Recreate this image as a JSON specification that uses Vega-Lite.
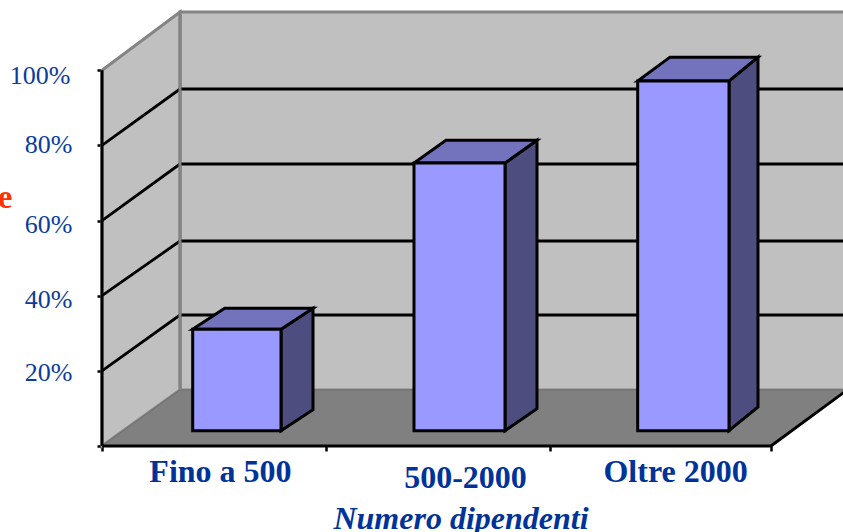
{
  "$schema": "https://vega.github.io/schema/vega-lite/v6.json",
  "width": 741,
  "height": 446,
  "autosize": {"type": "none"},
  "padding": {"left": 102, "top": 0, "right": 0, "bottom": 86},
  "background": "white",
  "config": {"view": {"stroke": null}},
  "datasets": {
    "pareti": [
      {"id": "fondo", "x": 0.3498, "y": 14.9, "y2": 115.5},
      {"id": "fondo", "x": 3.36, "y": 14.9, "y2": 115.5},
      {"id": "lato", "x": 0, "y": 0, "y2": 100},
      {"id": "lato", "x": 0.3498, "y": 14.9, "y2": 115.5}
    ],
    "pavimento": [
      {"x": 0, "y": 0, "y2": 0},
      {"x": 0.3498, "y": 0, "y2": 14.9},
      {"x": 3, "y": 0, "y2": 14.9},
      {"x": 3.341, "y": 14.9, "y2": 14.9}
    ],
    "griglia": [
      {"id": "20", "x": 0, "y": 20},
      {"id": "20", "x": 0.3498, "y": 34.87},
      {"id": "20", "x": 3.36, "y": 34.87},
      {"id": "40", "x": 0, "y": 40},
      {"id": "40", "x": 0.3498, "y": 54.56},
      {"id": "40", "x": 3.36, "y": 54.56},
      {"id": "60", "x": 0, "y": 60},
      {"id": "60", "x": 0.3498, "y": 75.06},
      {"id": "60", "x": 3.36, "y": 75.06},
      {"id": "80", "x": 0, "y": 80},
      {"id": "80", "x": 0.3498, "y": 95.02},
      {"id": "80", "x": 3.36, "y": 95.02}
    ],
    "spigolo": [
      {"x": 0.3498, "y": 14.9},
      {"x": 0.3498, "y": 115.5}
    ],
    "assi": [
      {"id": "verticale", "ordine": 1, "x": 0, "y": 0},
      {"id": "verticale", "ordine": 2, "x": 0, "y": 100},
      {"id": "base", "ordine": 1, "x": 0, "y": 0},
      {"id": "base", "ordine": 2, "x": 3, "y": 0},
      {"id": "base", "ordine": 3, "x": 3.341, "y": 14.9}
    ],
    "colonne": [
      {"categoria": "Fino a 500", "x": 0.4067, "x2": 0.8027, "y": 31.06, "y2": 4.07},
      {"categoria": "500-2000", "x": 1.3991, "x2": 1.8072, "y": 75.3, "y2": 4.07},
      {"categoria": "Oltre 2000", "x": 2.4022, "x2": 2.8117, "y": 97.15, "y2": 4.07}
    ],
    "facce": [
      {"id": "Fino a 500 lato", "faccia": "lato", "x": 0.8027, "y": 4.07, "y2": 31.06},
      {"id": "Fino a 500 lato", "faccia": "lato", "x": 0.9462, "y": 9.66, "y2": 36.65},
      {"id": "Fino a 500 cima", "faccia": "cima", "x": 0.4067, "y": 31.06, "y2": 31.06},
      {"id": "Fino a 500 cima", "faccia": "cima", "x": 0.5502, "y": 31.06, "y2": 36.65},
      {"id": "Fino a 500 cima", "faccia": "cima", "x": 0.8027, "y": 31.06, "y2": 36.65},
      {"id": "Fino a 500 cima", "faccia": "cima", "x": 0.9462, "y": 36.65, "y2": 36.65},
      {"id": "500-2000 lato", "faccia": "lato", "x": 1.8072, "y": 4.07, "y2": 75.3},
      {"id": "500-2000 lato", "faccia": "lato", "x": 1.9507, "y": 9.95, "y2": 81.4},
      {"id": "500-2000 cima", "faccia": "cima", "x": 1.3991, "y": 75.3, "y2": 75.3},
      {"id": "500-2000 cima", "faccia": "cima", "x": 1.5426, "y": 75.3, "y2": 81.4},
      {"id": "500-2000 cima", "faccia": "cima", "x": 1.8072, "y": 75.3, "y2": 81.4},
      {"id": "500-2000 cima", "faccia": "cima", "x": 1.9507, "y": 81.4, "y2": 81.4},
      {"id": "Oltre 2000 lato", "faccia": "lato", "x": 2.8117, "y": 4.07, "y2": 97.15},
      {"id": "Oltre 2000 lato", "faccia": "lato", "x": 2.9417, "y": 10.38, "y2": 103.5},
      {"id": "Oltre 2000 cima", "faccia": "cima", "x": 2.4022, "y": 97.15, "y2": 97.15},
      {"id": "Oltre 2000 cima", "faccia": "cima", "x": 2.5471, "y": 97.15, "y2": 103.5},
      {"id": "Oltre 2000 cima", "faccia": "cima", "x": 2.8117, "y": 97.15, "y2": 103.5},
      {"id": "Oltre 2000 cima", "faccia": "cima", "x": 2.9417, "y": 103.5, "y2": 103.5}
    ]
  },
  "encoding": {
    "x": {
      "field": "x",
      "type": "quantitative",
      "scale": {"domain": [0, 3.3229], "nice": false, "zero": false, "clamp": false},
      "axis": {
        "values": [0, 0.529, 1.004, 1.628, 2.009, 2.57, 3],
        "grid": false,
        "domain": false,
        "tickSize": 5,
        "tickWidth": 2.5,
        "tickColor": "black",
        "tickOpacity": {"condition": {"test": "datum.value === 0.529 || datum.value === 1.628 || datum.value === 2.57", "value": 0}, "value": 1},
        "labelExpr": "datum.value === 0.529 ? 'Fino a 500' : datum.value === 1.628 ? '500-2000' : datum.value === 2.57 ? 'Oltre 2000' : ''",
        "labelFont": "Liberation Serif",
        "labelFontWeight": "bold",
        "labelFontSize": 32,
        "labelColor": "#003399",
        "labelBaseline": "alphabetic",
        "labelAlign": "center",
        "labelOverlap": false,
        "labelFlush": false,
        "labelBound": false,
        "labelPadding": {"condition": {"test": "datum.value === 1.628", "value": 36}, "value": 30},
        "title": "Numero dipendenti",
        "titleFont": "Liberation Serif",
        "titleFontStyle": "italic",
        "titleFontWeight": "bold",
        "titleFontSize": 32,
        "titleColor": "#003399",
        "titleBaseline": "alphabetic",
        "titleAlign": "center",
        "titleX": 358.5,
        "titleY": 82
      }
    },
    "y": {
      "field": "y",
      "type": "quantitative",
      "stack": null,
      "scale": {"domain": [0, 118.71], "nice": false, "zero": false, "clamp": false},
      "axis": {
        "values": [0, 20, 40, 60, 80, 100],
        "grid": false,
        "domain": false,
        "tickSize": 5,
        "tickWidth": 2.5,
        "tickColor": "black",
        "labelExpr": "datum.value > 0 ? datum.value + '%' : ''",
        "labelFont": "Liberation Serif",
        "labelFontSize": 26,
        "labelColor": "#0a3d9c",
        "labelBaseline": "middle",
        "labelAlign": "right",
        "labelOverlap": false,
        "labelFlush": false,
        "labelBound": false,
        "labelPadding": {"condition": {"test": "datum.value === 100", "value": 27}, "value": 25},
        "labelOffset": {"condition": [
          {"test": "datum.value === 100", "value": 5},
          {"test": "datum.value === 60", "value": 4},
          {"test": "datum.value === 40", "value": 3.5},
          {"test": "datum.value === 20", "value": 1.5}
        ], "value": -1},
        "title": "e",
        "titleFont": "Liberation Serif",
        "titleFontWeight": "bold",
        "titleFontSize": 33,
        "titleColor": "#ff3300",
        "titleAngle": 0,
        "titleAlign": "right",
        "titleBaseline": "alphabetic",
        "titleX": -90,
        "titleY": 207
      }
    }
  },
  "layer": [
    {
      "data": {"name": "pareti"},
      "mark": {"type": "area", "fill": "#c0c0c0", "stroke": "#848484", "strokeWidth": 3, "clip": false},
      "encoding": {"y2": {"field": "y2"}, "detail": {"field": "id"}}
    },
    {
      "data": {"name": "pavimento"},
      "mark": {"type": "area", "fill": "#808080", "stroke": "#6e6e6e", "strokeWidth": 1},
      "encoding": {"y2": {"field": "y2"}}
    },
    {
      "data": {"name": "griglia"},
      "mark": {"type": "line", "stroke": "black", "strokeWidth": 2.8},
      "encoding": {"detail": {"field": "id"}}
    },
    {
      "data": {"name": "spigolo"},
      "mark": {"type": "line", "stroke": "#848484", "strokeWidth": 3},
      "encoding": {}
    },
    {
      "data": {"name": "assi"},
      "mark": {"type": "line", "stroke": "black", "strokeWidth": 3},
      "encoding": {"detail": {"field": "id"}, "order": {"field": "ordine"}}
    },
    {
      "data": {"name": "facce"},
      "mark": {"type": "area", "stroke": "black", "strokeWidth": 3, "strokeJoin": "miter"},
      "encoding": {
        "y2": {"field": "y2"},
        "detail": {"field": "id"},
        "fill": {
          "field": "faccia",
          "type": "nominal",
          "legend": null,
          "scale": {"domain": ["lato", "cima"], "range": ["#4d4d80", "#7373bd"]}
        }
      }
    },
    {
      "data": {"name": "colonne"},
      "mark": {"type": "rect", "fill": "#9999ff", "stroke": "black", "strokeWidth": 3},
      "encoding": {"x2": {"field": "x2"}, "y2": {"field": "y2"}}
    }
  ]
}
